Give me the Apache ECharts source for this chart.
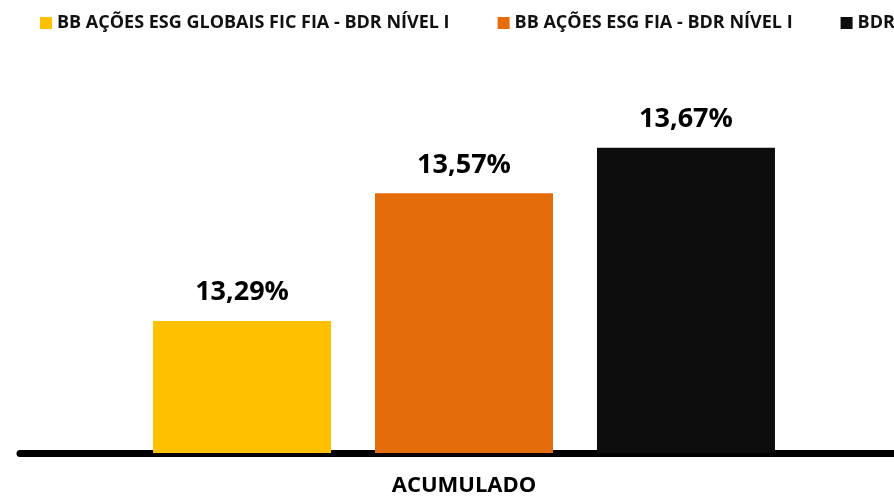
<!DOCTYPE html>
<html>
<head>
<meta charset="utf-8">
<script src="https://cdn.jsdelivr.net/npm/echarts@6/dist/echarts.min.js"></script>
<style>
  html, body { margin: 0; padding: 0; background: #fff; overflow: hidden; }
  #chart { width: 908px; height: 497px; }
</style>
</head>
<body>
<div id="chart"></div>
<script>
// chart data
const categories = ["ACUMULADO"];
const seriesNames = [
  "BB AÇÕES ESG GLOBAIS FIC FIA - BDR NÍVEL I",
  "BB AÇÕES ESG FIA - BDR NÍVEL I",
  "BDRX"
];
const globaisValues = [13.29];
const esgFiaValues = [13.57];
const bdrxValues = [13.67];
const colors = ["#FFC000", "#E46C0A", "#0D0D0D"];

const font = "'Open Sans', 'Noto Sans', sans-serif";

const myChart = echarts.init(document.getElementById("chart"));

function fmt(p) {
  return p.value.toFixed(2).replace(".", ",") + "%";
}

const allValues = [globaisValues, esgFiaValues, bdrxValues];

const option = {
  animation: false,
  legend: {
    left: 35,
    top: 9,
    width: 3000,
    itemWidth: 12,
    itemHeight: 12,
    itemGap: 48,
    icon: "rect",
    textStyle: {
      fontFamily: font,
      fontWeight: "bold",
      fontSize: 18,
      color: "#111"
    },
    data: seriesNames
  },
  grid: {
    left: 20,
    right: 0,
    top: 43,
    bottom: 42
  },
  xAxis: {
    type: "category",
    data: categories,
    axisLine: { show: true, lineStyle: { color: "#000", width: 7 } },
    axisTick: { show: false },
    axisLabel: {
      margin: 22,
      fontFamily: font,
      fontWeight: "bold",
      fontSize: 22,
      color: "#000"
    }
  },
  yAxis: {
    type: "value",
    min: 13,
    max: 13.9,
    show: false,
    splitLine: { show: false }
  },
  series: seriesNames.map((name, i) => ({
    name: name,
    type: "bar",
    data: allValues[i],
    barWidth: 178,
    barGap: "24.7%",
    itemStyle: { color: colors[i] },
    label: {
      show: true,
      position: "top",
      distance: 15,
      formatter: fmt,
      fontFamily: font,
      fontWeight: "bold",
      fontSize: 27,
      color: "#000"
    }
  }))
};

myChart.setOption(option);
</script>
</body>
</html>
